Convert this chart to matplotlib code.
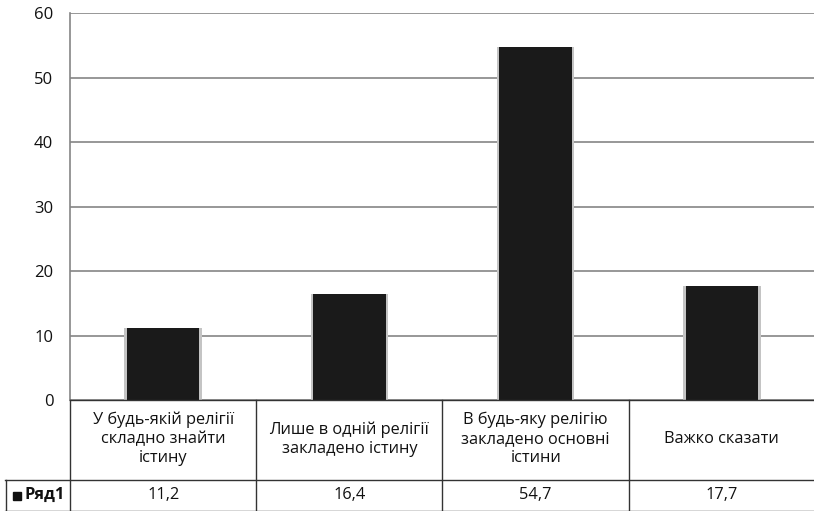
import matplotlib
matplotlib.use("Agg")
import matplotlib.pyplot as plt
from matplotlib.lines import Line2D
from matplotlib.patches import Rectangle

plt.rcParams['font.family'] = ['Open Sans', 'DejaVu Sans']

categories = [
    "У будь-якій релігії\nскладно знайти\nістину",
    "Лише в одній релігії\nзакладено істину",
    "В будь-яку релігію\nзакладено основні\nістини",
    "Важко сказати",
]
values = [11.2, 16.4, 54.7, 17.7]
series_name = "Ряд1"
yticks = [0, 10, 20, 30, 40, 50, 60]

W, H = 814, 511
fig = plt.figure(figsize=(W / 100, H / 100), dpi=100)
fig.patch.set_facecolor('white')

x0, x1 = 70, 815
y_top, y_bot = 13, 400
ax = fig.add_axes([x0 / W, 1 - y_bot / H, (x1 - x0) / W, (y_bot - y_top) / H])
ax.set_xlim(-0.5, len(values) - 0.5)
ax.set_ylim(0, 60)

for i, v in enumerate(values):
    ax.bar(i, v, width=0.415, color='#c4c4c4', zorder=2)
    ax.bar(i, v, width=0.39, color='#1a1a1a', zorder=3)

ax.set_yticks(yticks)
ax.set_yticklabels([str(t) for t in yticks], fontsize=12, color='#111111')
ax.tick_params(axis='y', length=0, pad=12)
ax.set_xticks([])
ax.yaxis.grid(True, color='#858585', linewidth=1.2, zorder=0)
ax.set_axisbelow(True)
for s in ['top', 'right', 'bottom']:
    ax.spines[s].set_visible(False)
ax.spines['left'].set_color('#858585')
ax.spines['left'].set_linewidth(1.2)

# data table below the axes
def fx(px):
    return px / W

def fy(py):
    return 1 - py / H

lc = '#333333'
lw = 1.0
col_w = (x1 - x0) / len(values)
fig.add_artist(Line2D([fx(x0), fx(x1)], [fy(400), fy(400)], color=lc, lw=lw))
fig.add_artist(Line2D([fx(5), fx(x1)], [fy(480), fy(480)], color=lc, lw=lw))
fig.add_artist(Line2D([fx(5), fx(x1)], [fy(511), fy(511)], color=lc, lw=lw))
fig.add_artist(Line2D([fx(5.5), fx(5.5)], [fy(480), fy(511)], color=lc, lw=lw))
for k in range(len(values) + 1):
    xx = x0 + k * col_w
    fig.add_artist(Line2D([fx(xx), fx(xx)], [fy(400), fy(511)], color=lc, lw=lw))

for i, (c, v) in enumerate(zip(categories, values)):
    cx = x0 + (i + 0.5) * col_w
    fig.text(fx(cx), fy(439), c, ha='center', va='center', fontsize=11.8,
             linespacing=1.25, color='#111111')
    fig.text(fx(cx), fy(495), f"{v:.1f}".replace('.', ','), ha='center',
             va='center', fontsize=11.8, color='#111111')

# legend key square
fig.add_artist(Rectangle((fx(13), fy(500)), fx(8), 8 / H, color='#111111',
                         transform=fig.transFigure))
fig.text(fx(24), fy(495), series_name, ha='left', va='center', fontsize=11.8,
         fontweight='bold', color='#111111')

fig.savefig("out.png", dpi=100)
